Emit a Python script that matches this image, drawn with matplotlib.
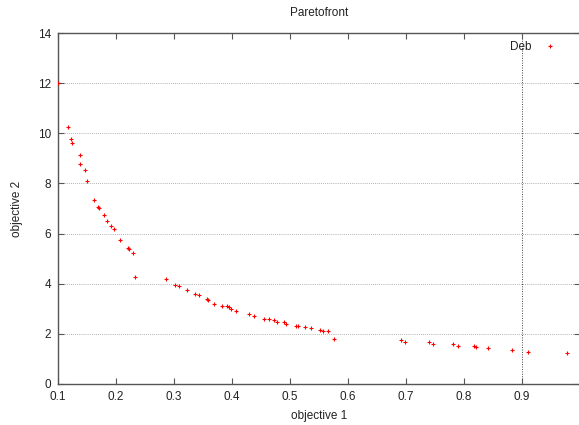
import matplotlib
matplotlib.use("Agg")
import matplotlib.pyplot as plt

obj1 = [0.100, 0.1178, 0.1224, 0.1247, 0.1385, 0.1385, 0.147, 0.1494, 0.1626, 0.1695, 0.170,
        0.180, 0.1845, 0.191, 0.197, 0.2075, 0.2207, 0.2224, 0.2288, 0.2333,
        0.2857, 0.302, 0.3086, 0.322, 0.3367, 0.343, 0.3563, 0.359, 0.3695, 0.382,
        0.391, 0.395, 0.398, 0.407, 0.430, 0.438, 0.456, 0.464, 0.4724, 0.477,
        0.490, 0.493, 0.510, 0.514, 0.526, 0.5357, 0.5517, 0.5574, 0.565, 0.5753,
        0.691, 0.699, 0.740, 0.746, 0.7816, 0.790, 0.818, 0.820, 0.841, 0.882,
        0.911, 0.977]
obj2 = [12.0, 10.26, 9.79, 9.61, 9.12, 8.79, 8.54, 8.10, 7.35, 7.07, 7.02,
        6.73, 6.49, 6.29, 6.19, 5.76, 5.44, 5.38, 5.21, 4.27,
        4.19, 3.96, 3.90, 3.76, 3.60, 3.55, 3.38, 3.34, 3.21, 3.12,
        3.10, 3.06, 3.00, 2.92, 2.80, 2.72, 2.61, 2.58, 2.54, 2.49,
        2.46, 2.41, 2.33, 2.33, 2.27, 2.25, 2.15, 2.13, 2.13, 1.78,
        1.74, 1.69, 1.68, 1.58, 1.58, 1.53, 1.53, 1.49, 1.42, 1.36,
        1.29, 1.24]

xticks = [0.1, 0.2, 0.3, 0.4, 0.5, 0.6, 0.7, 0.8, 0.9]
yticks = [0, 2, 4, 6, 8, 10, 12, 14]

plt.rcParams['font.family'] = ['Liberation Sans', 'DejaVu Sans']
fig = plt.figure(figsize=(5.79, 4.25), dpi=100)
ax = fig.add_axes([58/579, 41/425, 522/579, 351/425])

for yv in yticks[1:-1]:
    ax.axhline(yv, color='#999999', lw=0.6, ls=(0, (1, 1.5)), zorder=1)
ax.axvline(0.9, color='#444444', lw=0.7, ls=(0, (1, 1.5)), zorder=1)

ax.plot(obj1, obj2, ls='none', marker='+', ms=2.5, mew=0.8, color='red',
        label='Deb', zorder=3)

ax.set_xlim(0.1, 1.0)
ax.set_ylim(0, 14)
ax.set_xticks(xticks)
ax.set_xticklabels([f"{v:g}" for v in xticks])
ax.set_yticks(yticks)
ax.tick_params(direction='in', length=4, width=0.8, color='#555555',
               top=True, right=True, labelsize=8.5, pad=5, labelcolor='#222222')
for s in ax.spines.values():
    s.set_color('#555555')
    s.set_linewidth(1.0)

ax.set_title('Paretofront', fontsize=8.5, pad=12, color='#222222')
ax.set_xlabel('objective 1', fontsize=8.5, labelpad=5, color='#222222')
ax.set_ylabel('objective 2', fontsize=8.5, labelpad=11, color='#222222')

leg = ax.legend(loc='upper right', bbox_to_anchor=(0.972, 1.0), frameon=False,
                markerfirst=False, fontsize=8.5, handlelength=1.2,
                handletextpad=1.0, borderaxespad=0.3)
for t in leg.get_texts():
    t.set_color('#222222')

fig.savefig('out.png', dpi=100)
